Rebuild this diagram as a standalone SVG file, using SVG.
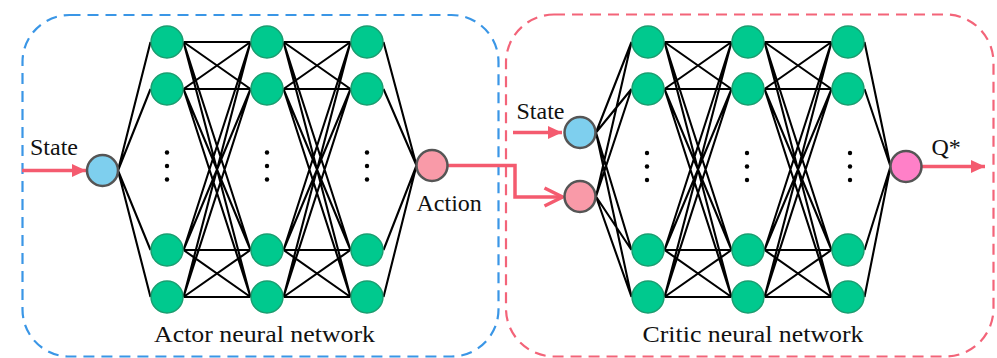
<svg xmlns="http://www.w3.org/2000/svg" width="997" height="358" viewBox="0 0 997 358">
  <style>
    .lbl { font-family: "Liberation Serif", "Times New Roman", serif; font-size: 24px; fill: #111; }
    .hid { fill: #00c98e; stroke: #1a9e70; stroke-width: 1.5; }
    .in-state { fill: #7ecfee; stroke: #555; stroke-width: 2.5; }
    .in-action { fill: #f99aa8; stroke: #555; stroke-width: 2.5; }
    .out-q { fill: #ff80c8; stroke: #555; stroke-width: 2.5; }
    .wire { fill: none; stroke: #000; stroke-width: 2.1; }
    .flow { fill: none; stroke: #f45b6f; stroke-width: 3.5; }
    .dot { fill: #000; }
  </style>
  <defs>
    <marker id="headFill" viewBox="0 0 14 13" refX="14" refY="6.5" markerWidth="14" markerHeight="13" markerUnits="userSpaceOnUse" orient="auto">
      <path d="M0 0L14 6.5L0 13Z" fill="#f45b6f"/>
    </marker>
    <marker id="headOpen" viewBox="0 0 22 22" refX="20" refY="11" markerWidth="22" markerHeight="22" markerUnits="userSpaceOnUse" orient="auto">
      <path d="M2 2L20 11L2 20" fill="none" stroke="#f45b6f" stroke-width="3.5"/>
    </marker>
  </defs>

  <!-- network frames -->
  <g id="actor-frame">
    <rect x="22.5" y="15" width="476" height="341.5" rx="47" fill="none" stroke="#3a96e6" stroke-width="2.2" stroke-dasharray="11 7"/>
    <text class="lbl" x="264.5" y="342" text-anchor="middle" textLength="221" lengthAdjust="spacingAndGlyphs">Actor neural network</text>
  </g>
  <g id="critic-frame">
    <rect x="506" y="14.5" width="487.5" height="342" rx="48" fill="none" stroke="#f36479" stroke-width="2.2" stroke-dasharray="11 7"/>
    <text class="lbl" x="753" y="342" text-anchor="middle" textLength="221" lengthAdjust="spacingAndGlyphs">Critic neural network</text>
  </g>

  <!-- weights between layers -->
  <g id="connectors">
    <!-- actor: input to hidden 1 -->
    <path class="wire" d="M118 170.5L150.5 42M118 170.5L150.5 89M118 170.5L150.5 250M118 170.5L150.5 297"/>
    <!-- actor: hidden 1 to hidden 2 -->
    <path class="wire" d="M183.5 42L250.5 42M183.5 42L250.5 89M183.5 42L250.5 250M183.5 42L250.5 297M183.5 89L250.5 42M183.5 89L250.5 89M183.5 89L250.5 250M183.5 89L250.5 297M183.5 250L250.5 42M183.5 250L250.5 89M183.5 250L250.5 250M183.5 250L250.5 297M183.5 297L250.5 42M183.5 297L250.5 89M183.5 297L250.5 250M183.5 297L250.5 297"/>
    <!-- actor: hidden 2 to hidden 3 -->
    <path class="wire" d="M283.5 42L350.5 42M283.5 42L350.5 89M283.5 42L350.5 250M283.5 42L350.5 297M283.5 89L350.5 42M283.5 89L350.5 89M283.5 89L350.5 250M283.5 89L350.5 297M283.5 250L350.5 42M283.5 250L350.5 89M283.5 250L350.5 250M283.5 250L350.5 297M283.5 297L350.5 42M283.5 297L350.5 89M283.5 297L350.5 250M283.5 297L350.5 297"/>
    <!-- actor: hidden 3 to action -->
    <path class="wire" d="M383.5 42L416.5 165.5M383.5 89L416.5 165.5M383.5 250L416.5 165.5M383.5 297L416.5 165.5"/>
    <!-- critic: inputs to hidden 1 -->
    <path class="wire" d="M596 132.5L631.5 42M596 132.5L631.5 89M596 132.5L631.5 250M596 132.5L631.5 297M596 196.5L631.5 42M596 196.5L631.5 89M596 196.5L631.5 250M596 196.5L631.5 297"/>
    <!-- critic: hidden 1 to hidden 2 -->
    <path class="wire" d="M664.5 42L731.5 42M664.5 42L731.5 89M664.5 42L731.5 250M664.5 42L731.5 297M664.5 89L731.5 42M664.5 89L731.5 89M664.5 89L731.5 250M664.5 89L731.5 297M664.5 250L731.5 42M664.5 250L731.5 89M664.5 250L731.5 250M664.5 250L731.5 297M664.5 297L731.5 42M664.5 297L731.5 89M664.5 297L731.5 250M664.5 297L731.5 297"/>
    <!-- critic: hidden 2 to hidden 3 -->
    <path class="wire" d="M764.5 42L831.5 42M764.5 42L831.5 89M764.5 42L831.5 250M764.5 42L831.5 297M764.5 89L831.5 42M764.5 89L831.5 89M764.5 89L831.5 250M764.5 89L831.5 297M764.5 250L831.5 42M764.5 250L831.5 89M764.5 250L831.5 250M764.5 250L831.5 297M764.5 297L831.5 42M764.5 297L831.5 89M764.5 297L831.5 250M764.5 297L831.5 297"/>
    <!-- critic: hidden 3 to output -->
    <path class="wire" d="M864.5 42L890.5 166.5M864.5 89L890.5 166.5M864.5 250L890.5 166.5M864.5 297L890.5 166.5"/>

    <!-- signal flow -->
    <path id="flow-state-actor" class="flow" d="M22 170.5L86 170.5" marker-end="url(#headFill)"/>
    <path id="flow-action" class="flow" d="M448 165.5L515 165.5L515 197L562.5 197" marker-end="url(#headOpen)"/>
    <path id="flow-state-critic" class="flow" d="M513 132.5L562 132.5" marker-end="url(#headFill)"/>
    <path id="flow-q" class="flow" d="M922 166.5L985 166.5" marker-end="url(#headFill)"/>
  </g>

  <!-- actor network nodes -->
  <g id="actor-input">
    <circle class="in-state" cx="102.5" cy="170.5" r="15.5"/>
    <text class="lbl" x="30" y="155">State</text>
  </g>
  <g id="actor-h1">
    <circle class="hid" cx="167" cy="42" r="16"/>
    <circle class="hid" cx="167" cy="89" r="16"/>
    <circle class="dot" cx="167" cy="152.5" r="2.2"/>
    <circle class="dot" cx="167" cy="166" r="2.2"/>
    <circle class="dot" cx="167" cy="179.5" r="2.2"/>
    <circle class="hid" cx="167" cy="250" r="16"/>
    <circle class="hid" cx="167" cy="297" r="16"/>
  </g>
  <g id="actor-h2">
    <circle class="hid" cx="267" cy="42" r="16"/>
    <circle class="hid" cx="267" cy="89" r="16"/>
    <circle class="dot" cx="267" cy="152.5" r="2.2"/>
    <circle class="dot" cx="267" cy="166" r="2.2"/>
    <circle class="dot" cx="267" cy="179.5" r="2.2"/>
    <circle class="hid" cx="267" cy="250" r="16"/>
    <circle class="hid" cx="267" cy="297" r="16"/>
  </g>
  <g id="actor-h3">
    <circle class="hid" cx="367" cy="42" r="16"/>
    <circle class="hid" cx="367" cy="89" r="16"/>
    <circle class="dot" cx="367" cy="152.5" r="2.2"/>
    <circle class="dot" cx="367" cy="166" r="2.2"/>
    <circle class="dot" cx="367" cy="179.5" r="2.2"/>
    <circle class="hid" cx="367" cy="250" r="16"/>
    <circle class="hid" cx="367" cy="297" r="16"/>
  </g>
  <g id="actor-output">
    <circle class="in-action" cx="432" cy="165.5" r="15.5"/>
    <text class="lbl" x="416.5" y="211">Action</text>
  </g>

  <!-- critic network nodes -->
  <g id="critic-input-state">
    <circle class="in-state" cx="580" cy="132.5" r="15.5"/>
    <text class="lbl" x="516.5" y="118.5">State</text>
  </g>
  <g id="critic-input-action">
    <circle class="in-action" cx="580" cy="196.5" r="15.5"/>
  </g>
  <g id="critic-h1">
    <circle class="hid" cx="648" cy="42" r="16"/>
    <circle class="hid" cx="648" cy="89" r="16"/>
    <circle class="dot" cx="647" cy="153" r="2.2"/>
    <circle class="dot" cx="647" cy="166.5" r="2.2"/>
    <circle class="dot" cx="647" cy="180" r="2.2"/>
    <circle class="hid" cx="648" cy="250" r="16"/>
    <circle class="hid" cx="648" cy="297" r="16"/>
  </g>
  <g id="critic-h2">
    <circle class="hid" cx="748" cy="42" r="16"/>
    <circle class="hid" cx="748" cy="89" r="16"/>
    <circle class="dot" cx="747" cy="153" r="2.2"/>
    <circle class="dot" cx="747" cy="166.5" r="2.2"/>
    <circle class="dot" cx="747" cy="180" r="2.2"/>
    <circle class="hid" cx="748" cy="250" r="16"/>
    <circle class="hid" cx="748" cy="297" r="16"/>
  </g>
  <g id="critic-h3">
    <circle class="hid" cx="848" cy="42" r="16"/>
    <circle class="hid" cx="848" cy="89" r="16"/>
    <circle class="dot" cx="850" cy="153" r="2.2"/>
    <circle class="dot" cx="850" cy="166.5" r="2.2"/>
    <circle class="dot" cx="850" cy="180" r="2.2"/>
    <circle class="hid" cx="848" cy="250" r="16"/>
    <circle class="hid" cx="848" cy="297" r="16"/>
  </g>
  <g id="critic-output">
    <circle class="out-q" cx="906" cy="166.5" r="15.5"/>
    <text class="lbl" x="931.5" y="155">Q*</text>
  </g>
</svg>
